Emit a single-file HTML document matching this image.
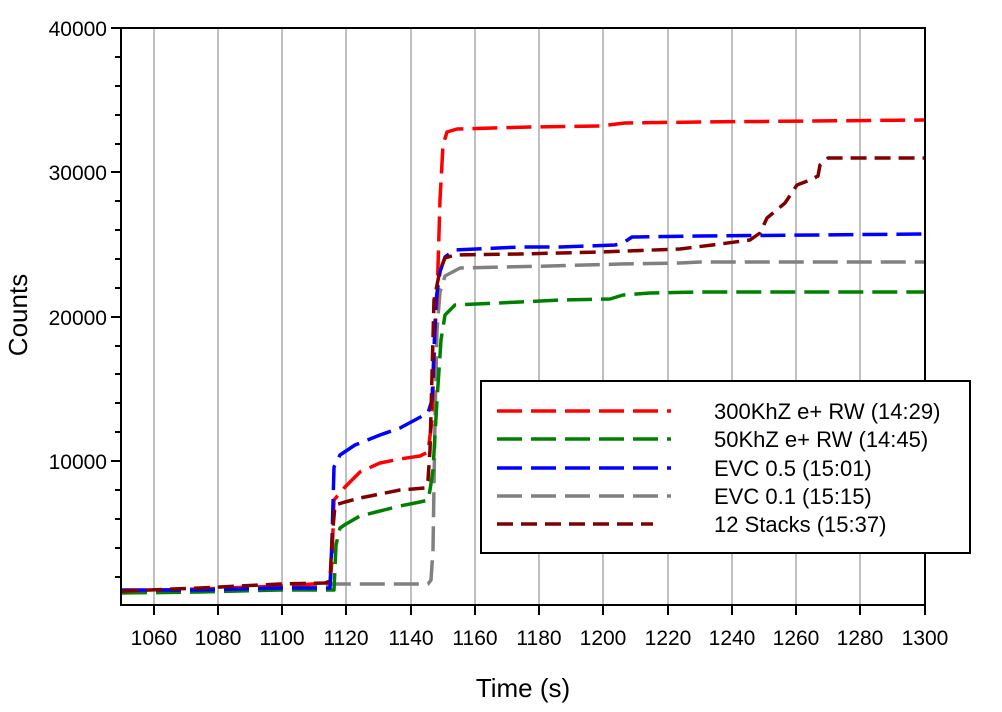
<!DOCTYPE html>
<html><head><meta charset="utf-8"><style>
html,body{margin:0;padding:0;background:#fff}
svg{display:block;font-family:"Liberation Sans",Arial,sans-serif}
</style></head><body>
<svg width="1002" height="712" viewBox="0 0 1002 712" xmlns="http://www.w3.org/2000/svg">
<rect width="1002" height="712" fill="#fff"/>
<g stroke="#c0c0c0" stroke-width="2">
<line x1="154" y1="28" x2="154" y2="605"/><line x1="218" y1="28" x2="218" y2="605"/>
<line x1="282" y1="28" x2="282" y2="605"/><line x1="346" y1="28" x2="346" y2="605"/>
<line x1="411" y1="28" x2="411" y2="605"/><line x1="475" y1="28" x2="475" y2="605"/>
<line x1="539" y1="28" x2="539" y2="605"/><line x1="603" y1="28" x2="603" y2="605"/>
<line x1="668" y1="28" x2="668" y2="605"/><line x1="732" y1="28" x2="732" y2="605"/>
<line x1="796" y1="28" x2="796" y2="605"/><line x1="860" y1="28" x2="860" y2="605"/>
</g>
<g fill="none" stroke-width="3.5" stroke-linejoin="round">
<polyline stroke="#808080" stroke-dasharray="25,9" points="122,592 200,590 280,587 330,584 428,584 431,580 433,550 435,420 437,330 440,292 445,276 460,268 550,266 620,264 680,263 700,262 925,262"/>
<polyline stroke="#008000" stroke-dasharray="25,9" points="122,593 200,592 280,590 334,590 336,545 340,528 346,524 360,516 380,511 400,506 420,502 428,500 430,490 433,470 437,400 441,340 445,315 455,305 520,302 560,300 610,299 623,295 650,293 700,292 925,292"/>
<polyline stroke="#ff0000" stroke-dasharray="25,9" points="122,591 200,589 280,586 330,583 332,560 334,500 345,487 360,472 380,463 400,459 420,456 428,452 432,420 435,330 437,300 440,200 443,145 447,132 457,129 530,127 600,126 625,123 700,122 925,120"/>
<polyline stroke="#0000ff" stroke-dasharray="25,9" points="122,590 200,590 280,588 330,588 332,540 334,467 340,455 355,445 380,435 400,428 428,413 432,400 436,300 440,272 445,257 455,250 520,247 560,247 615,245 623,243 632,237 700,236 925,234"/>
<polyline stroke="#800000" stroke-dasharray="16,8" points="122,591 200,588 280,584 325,583 330,581 332,540 335,505 345,502 360,498 380,494 400,490 425,488 428,480 430,450 434,300 440,270 445,258 455,255 520,254 600,252 680,249 720,244 750,240 760,233 767,218 785,203 797,185 810,180 818,176 820,165 828,158 925,158"/>
</g>
<rect x="121" y="28" width="804" height="577" fill="none" stroke="#000" stroke-width="2"/>
<g stroke="#000" stroke-width="2">
<line x1="111" y1="28" x2="121" y2="28"/><line x1="111" y1="172" x2="121" y2="172"/>
<line x1="111" y1="317" x2="121" y2="317"/><line x1="111" y1="461" x2="121" y2="461"/>
<line x1="115" y1="57" x2="121" y2="57"/><line x1="115" y1="86" x2="121" y2="86"/><line x1="115" y1="115" x2="121" y2="115"/><line x1="115" y1="144" x2="121" y2="144"/>
<line x1="115" y1="201" x2="121" y2="201"/><line x1="115" y1="230" x2="121" y2="230"/><line x1="115" y1="259" x2="121" y2="259"/><line x1="115" y1="288" x2="121" y2="288"/>
<line x1="115" y1="346" x2="121" y2="346"/><line x1="115" y1="374" x2="121" y2="374"/><line x1="115" y1="403" x2="121" y2="403"/><line x1="115" y1="432" x2="121" y2="432"/>
<line x1="115" y1="490" x2="121" y2="490"/><line x1="115" y1="519" x2="121" y2="519"/><line x1="115" y1="548" x2="121" y2="548"/><line x1="115" y1="577" x2="121" y2="577"/>
<line x1="154" y1="605" x2="154" y2="615"/><line x1="218" y1="605" x2="218" y2="615"/><line x1="282" y1="605" x2="282" y2="615"/><line x1="346" y1="605" x2="346" y2="615"/>
<line x1="411" y1="605" x2="411" y2="615"/><line x1="475" y1="605" x2="475" y2="615"/><line x1="539" y1="605" x2="539" y2="615"/><line x1="603" y1="605" x2="603" y2="615"/>
<line x1="668" y1="605" x2="668" y2="615"/><line x1="732" y1="605" x2="732" y2="615"/><line x1="796" y1="605" x2="796" y2="615"/><line x1="860" y1="605" x2="860" y2="615"/><line x1="925" y1="605" x2="925" y2="615"/>
</g>
<g font-size="21" fill="#000" text-anchor="end">
<text x="107" y="36">40000</text><text x="107" y="180">30000</text><text x="107" y="325">20000</text><text x="107" y="469">10000</text>
</g>
<g font-size="21" fill="#000" text-anchor="middle">
<text x="154" y="645">1060</text><text x="218" y="645">1080</text><text x="282" y="645">1100</text><text x="346" y="645">1120</text>
<text x="411" y="645">1140</text><text x="475" y="645">1160</text><text x="539" y="645">1180</text><text x="603" y="645">1200</text>
<text x="668" y="645">1220</text><text x="732" y="645">1240</text><text x="796" y="645">1260</text><text x="860" y="645">1280</text><text x="925" y="645">1300</text>
</g>
<text x="523" y="697" font-size="26" text-anchor="middle">Time (s)</text>
<text transform="translate(27,315) rotate(-90)" font-size="26" text-anchor="middle">Counts</text>
<rect x="481" y="381" width="489" height="172" fill="#fff" stroke="#000" stroke-width="2"/>
<g stroke-width="3.5" fill="none">
<line x1="497" y1="411" x2="671" y2="411" stroke="#ff0000" stroke-dasharray="25,9"/>
<line x1="497" y1="439" x2="671" y2="439" stroke="#008000" stroke-dasharray="25,9"/>
<line x1="497" y1="468" x2="671" y2="468" stroke="#0000ff" stroke-dasharray="25,9"/>
<line x1="497" y1="496" x2="671" y2="496" stroke="#808080" stroke-dasharray="25,9"/>
<line x1="497" y1="524" x2="653" y2="524" stroke="#800000" stroke-dasharray="16,8"/>
</g>
<g font-size="22" fill="#000">
<text x="714" y="419">300KhZ e+ RW (14:29)</text>
<text x="714" y="447">50KhZ e+ RW (14:45)</text>
<text x="714" y="476">EVC 0.5 (15:01)</text>
<text x="714" y="504">EVC 0.1 (15:15)</text>
<text x="714" y="532">12 Stacks (15:37)</text>
</g>
</svg>
</body></html>
